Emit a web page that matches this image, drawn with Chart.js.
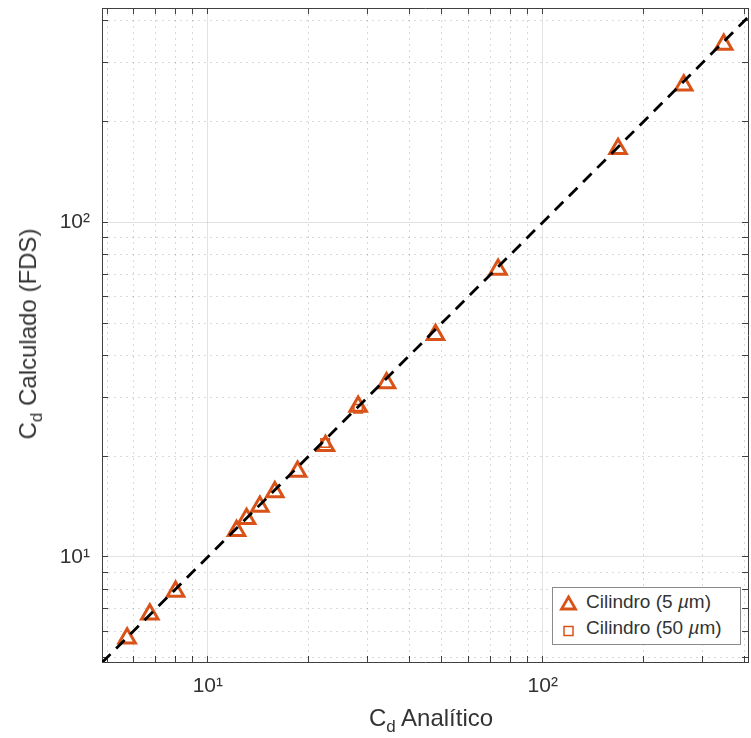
<!DOCTYPE html>
<html lang="es">
<head>
<meta charset="UTF-8">
<title>Cd analítico vs calculado</title>
<script src="https://cdn.jsdelivr.net/npm/chart.js"></script>
<style>
  html, body { margin: 0; padding: 0; background: #fff; overflow: hidden; font-family: "Liberation Sans", Arial, sans-serif; }
  #wrap { position: relative; width: 751px; height: 738px; }
  #chart { display: block; }
  .axis-title { position: absolute; color: #333; font-size: 24px; white-space: nowrap; line-height: 24px; }
  .axis-title sub { font-size: 17px; vertical-align: -6px; line-height: 0; }
  #xTitle { left: 431px; top: 718px; transform: translate(-50%, -50%); }
  #yTitle { left: 28px; top: 334px; transform: translate(-50%, -50%) rotate(-90deg); }
  #legend { position: absolute; left: 552px; top: 587px; width: 189px; height: 58px; box-sizing: border-box;
            border: 1px solid #8a8a8a; background: #fff; color: #333; font-size: 19px; }
  #legend span { position: absolute; left: 33px; line-height: 20px; white-space: nowrap; }
  #legend svg { position: absolute; left: 0; }
</style>
</head>
<body>
<div id="wrap">
  <canvas id="chart" width="751" height="738"></canvas>
  <div class="axis-title" id="xTitle">C<sub>d</sub> Analítico</div>
  <div class="axis-title" id="yTitle">C<sub>d</sub> Calculado (FDS)</div>
  <div id="legend">
    <svg width="32" height="56">
      <polygon points="15.5,9 22.5,21 8.5,21" fill="none" stroke="#D95319" stroke-width="2.8"/>
      <rect x="11" y="38.5" width="9" height="9" fill="none" stroke="#D95319" stroke-width="1.5"/>
    </svg>
    <span style="top:4px">Cilindro (5 <i>µ</i>m)</span>
    <span style="top:30px">Cilindro (50 <i>µ</i>m)</span>
  </div>
</div>

<script>
// limites de los ejes
const xMin = 4.83, xMax = 410;
const yMin = 4.85, yMax = 437;

// ticks (log)
const tickValues = [5, 6, 7, 8, 9, 10, 20, 30, 40, 50, 60, 70, 80, 90, 100, 200, 300, 400];
const majorTicks = [10, 100];
const majorLabels = ['10¹', '10²'];

// Cilindro 5 µm
const cd5Analitico = [5.74, 6.71, 8.01, 12.18, 13.05, 14.30, 15.85, 18.53, 22.45, 28.10, 34.16, 47.83, 73.55, 167.8, 263.6, 347];
const cd5Calculado = [5.71, 6.74, 7.88, 11.96, 12.99, 14.14, 15.62, 18.00, 21.48, 28.16, 33.08, 46.14, 72.2, 165.8, 256.7, 340];

// Cilindro 50 µm
const cd50Analitico = [22.4, 28.1];
const cd50Calculado = [21.9, 27.7];

// linea y = x
const refX = [xMin, xMax];
const refY = [xMin, xMax];

const orange = '#D95319';
const axisColor = '#404040';
const textColor = '#333';
const majorGrid = 'rgba(0,0,0,0.11)';
const minorGrid = 'rgba(0,0,0,0.15)';
const fontFamily = '"Liberation Sans", Arial, sans-serif';

const toPoints = (xs, ys) => xs.map((x, i) => ({ x: x, y: ys[i] }));
const isMajor = ctx => ctx.tick && majorTicks.includes(ctx.tick.value);

function setTicks(scale) {
  scale.ticks = tickValues
    .filter(v => v >= scale.min && v <= scale.max)
    .map(v => ({ value: v }));
}

function labelFor(v) {
  const i = majorTicks.indexOf(v);
  return i >= 0 ? majorLabels[i] : '';
}

// fija el tamaño del eje y quita el relleno que añade Chart.js
function fixSize(axis, size) {
  return s => {
    if (axis === 'x') s.height = size; else s.width = size;
    s.paddingTop = s.paddingBottom = s.paddingLeft = s.paddingRight = 0;
  };
}

// eje principal: rejilla mayor + ticks hacia dentro + etiquetas
function mainAxis(axis, pos, min, max, size) {
  return {
    type: 'logarithmic', axis: axis, position: pos, min: min, max: max,
    afterBuildTicks: setTicks,
    afterFit: fixSize(axis, size),
    grid: { color: ctx => isMajor(ctx) ? majorGrid : 'transparent', lineWidth: 1,
            drawTicks: true, tickLength: -6, tickColor: axisColor, tickWidth: 1 },
    border: { color: axisColor, width: 1 },
    ticks: { autoSkip: false, maxRotation: 0, padding: 18, color: textColor,
             font: { size: 21, family: fontFamily }, callback: labelFor }
  };
}

// rejilla menor punteada
function minorAxis(axis, pos, min, max) {
  return {
    type: 'logarithmic', axis: axis, position: pos, min: min, max: max,
    afterBuildTicks: setTicks,
    afterFit: fixSize(axis, 0),
    grid: { color: ctx => (ctx.tick && !isMajor(ctx)) ? minorGrid : 'transparent', lineWidth: 1, drawTicks: false },
    border: { display: false, dash: [2, 4] },
    ticks: { display: false }
  };
}

// caja: ticks arriba y a la derecha
function boxAxis(axis, pos, min, max) {
  return {
    type: 'logarithmic', axis: axis, position: pos, min: min, max: max,
    afterBuildTicks: setTicks,
    afterFit: fixSize(axis, 0),
    grid: { drawOnChartArea: false, drawTicks: true, tickLength: -6, tickColor: axisColor, tickWidth: 1 },
    border: { color: axisColor, width: 1 },
    ticks: { display: false }
  };
}

new Chart(document.getElementById('chart'), {
  type: 'scatter',
  data: {
    datasets: [
      {
        label: 'y = x',
        data: toPoints(refX, refY),
        showLine: true,
        borderColor: '#000',
        borderWidth: 2.8,
        borderDash: [12, 8],
        pointRadius: 0,
        fill: false
      },
      {
        label: 'Cilindro (5 µm)',
        data: toPoints(cd5Analitico, cd5Calculado),
        pointStyle: 'triangle',
        pointRadius: 9.5,
        pointBorderWidth: 3,
        borderColor: orange,
        backgroundColor: 'rgba(0,0,0,0)'
      },
      {
        label: 'Cilindro (50 µm)',
        data: toPoints(cd50Analitico, cd50Calculado),
        pointStyle: 'rect',
        pointRadius: 6,
        pointBorderWidth: 1.6,
        borderColor: orange,
        backgroundColor: 'rgba(0,0,0,0)'
      }
    ]
  },
  options: {
    responsive: false,
    animation: false,
    layout: { autoPadding: false, padding: { top: 8, right: 3, left: 0, bottom: 0 } },
    plugins: { legend: { display: false }, tooltip: { enabled: false } },
    scales: {
      x: mainAxis('x', 'bottom', xMin, xMax, 76),
      xMinor: minorAxis('x', 'bottom', xMin, xMax),
      xTop: boxAxis('x', 'top', xMin, xMax),
      y: mainAxis('y', 'left', yMin, yMax, 102),
      yMinor: minorAxis('y', 'left', yMin, yMax),
      yRight: boxAxis('y', 'right', yMin, yMax)
    }
  }
});
</script>
</body>
</html>
